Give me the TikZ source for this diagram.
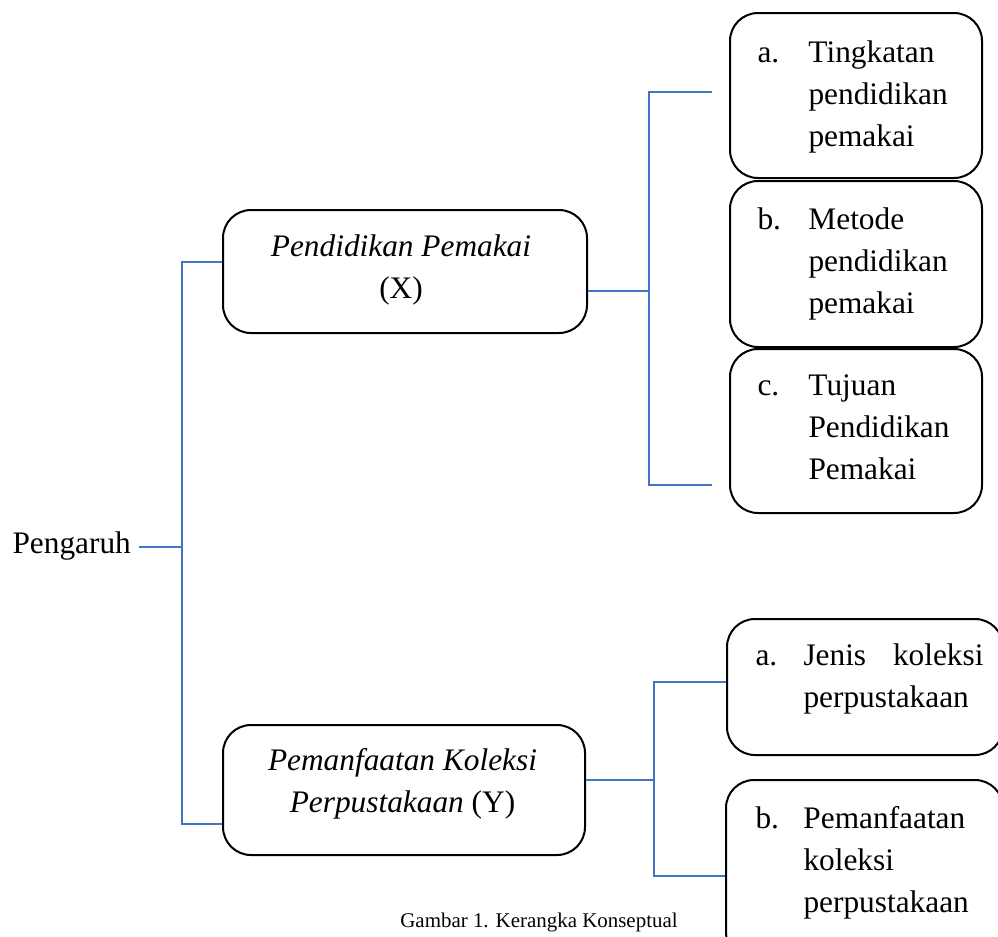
\documentclass[tikz,border=0pt]{standalone}
\usepackage{fontspec}
\setmainfont{Liberation Serif}
\usepackage{array}

\definecolor{biru}{RGB}{68,114,196}

\tikzset{every picture/.style={line width=0.75pt}}
\tikzset{
	kotak/.style={draw=black, line width=1.5pt, rounded corners=21pt, inner sep=0pt},
	garis/.style={draw=biru, line width=1.4pt},
	teks/.style={inner sep=0pt, font=\fontsize{23.5}{31.5}\selectfont},
	kecil/.style={inner sep=0pt, font=\fontsize{15.7}{19}\selectfont}
}

\begin{document}
\begin{tikzpicture}[x=0.75pt,y=0.75pt,yscale=-1,xscale=1]
				%set diagram left start at 0, and has size of 998 x 936
				\useasboundingbox (0,0) rectangle (998,936);
				
				%Shape: Rounded Rect [id:bx]
				\node (bx) [kotak, minimum width=273pt, minimum height=92.25pt] at (405,271.5) {};
				%Shape: Rounded Rect [id:by]
				\node (by) [kotak, minimum width=271.5pt, minimum height=97.5pt] at (404,790) {};
				%Shape: Rounded Rect [id:ia]
				\node (ia) [kotak, minimum width=189pt, minimum height=123.75pt] at (856,95.5) {};
				%Shape: Rounded Rect [id:ib]
				\node (ib) [kotak, minimum width=189pt, minimum height=124.5pt] at (856,264) {};
				%Shape: Rounded Rect [id:ic]
				\node (ic) [kotak, minimum width=189pt, minimum height=123pt] at (856,431) {};
				%Shape: Rounded Rect [id:ja]
				\node (ja) [kotak, minimum width=207pt, minimum height=102pt] at (865,687) {};
				%Shape: Rounded Rect [id:jb]
				\node (jb) [kotak, minimum width=207.75pt, minimum height=135pt] at (864.5,870) {};
				
				% Text Node
				\node (peng) [teks, anchor=base west] at (12,553) {Pengaruh};
				% Text Node
				\node (tx) [teks, anchor=base] at (401,256) {\begin{tabular}[t]{@{}c@{}}\textit{Pendidikan Pemakai}\\(X)\end{tabular}};
				% Text Node
				\node (ty) [teks, anchor=base] at (402.5,770) {\begin{tabular}[t]{@{}c@{}}\textit{Pemanfaatan Koleksi}\\\textit{Perpustakaan} (Y)\end{tabular}};
				% Text Node
				\node (ta) [teks, anchor=base west] at (757,62) {\begin{tabular}[t]{@{}p{38.25pt}@{}l@{}}a. & Tingkatan\\ & pendidikan\\ & pemakai\end{tabular}};
				% Text Node
				\node (tb) [teks, anchor=base west] at (757,229) {\begin{tabular}[t]{@{}p{38.25pt}@{}l@{}}b. & Metode\\ & pendidikan\\ & pemakai\end{tabular}};
				% Text Node
				\node (tc) [teks, anchor=base west] at (757,395) {\begin{tabular}[t]{@{}p{38.25pt}@{}l@{}}c. & Tujuan\\ & Pendidikan\\ & Pemakai\end{tabular}};
				% Text Node
				\node (tja) [teks, anchor=base west] at (755,665) {\begin{tabular}[t]{@{}p{36pt}@{}p{135pt}@{}}a. & Jenis\hfill koleksi\\ & perpustakaan\end{tabular}};
				% Text Node
				\node (tjb) [teks, anchor=base west] at (755,828) {\begin{tabular}[t]{@{}p{36pt}@{}l@{}}b. & Pemanfaatan\\ & koleksi\\ & perpustakaan\end{tabular}};
				% Text Node
				\node (kap) [kecil, anchor=base] at (539,927) {Gambar 1. Kerangka Konseptual};
				
				%Straight Lines [id:left]
				\coordinate (cabang) at (182,547);
				\coordinate (cx) at (182,262);
				\coordinate (cy) at (182,824);
				\draw [garis, line width=2pt, shorten <=6pt] (peng.east |- cabang) -- (cabang) ;
				\draw [garis] (bx.west |- cx) -- (cx) -- (cy) -- (by.west |- cy) ;
				%Straight Lines [id:top right]
				\coordinate (kx) at (649,291);
				\coordinate (ka) at (649,92);
				\coordinate (kc) at (649,485);
				\coordinate (ua) at (712,92);
				\coordinate (uc) at (712,485);
				\draw [garis] (bx.east |- kx) -- (kx) ;
				\draw [garis] (ua) -- (ka) -- (kc) -- (uc) ;
				%Straight Lines [id:bottom right]
				\coordinate (ly) at (654,780);
				\coordinate (la) at (654,682);
				\coordinate (lb) at (654,876);
				\draw [garis] (by.east |- ly) -- (ly) ;
				\draw [garis] (ja.west |- la) -- (la) -- (lb) -- (jb.west |- lb) ;
				
\end{tikzpicture}
\end{document}
